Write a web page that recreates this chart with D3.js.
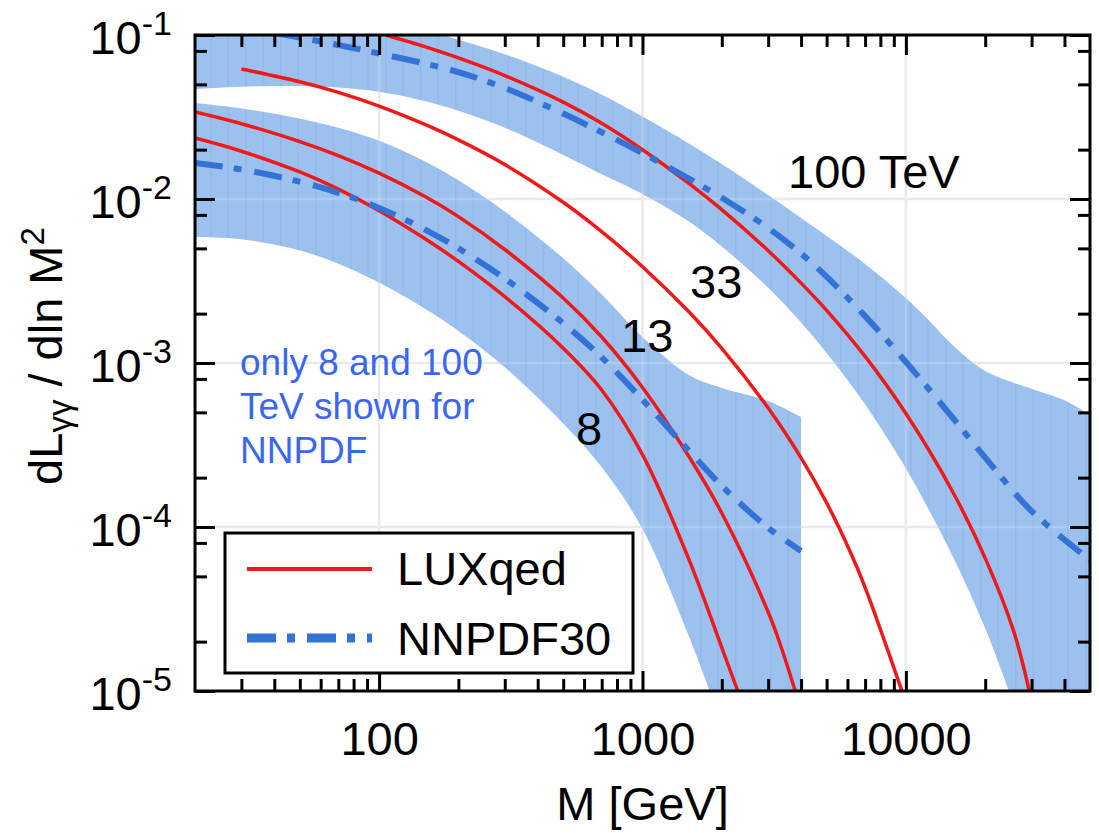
<!DOCTYPE html>
<html><head><meta charset="utf-8">
<script src="https://cdn.jsdelivr.net/npm/d3@7"></script>
<style>body{margin:0;background:#fff} text{font-family:"Liberation Sans",Arial,Helvetica,sans-serif}</style>
</head><body><svg id="c" width="1099" height="833"></svg>
<script>
// ---------- data (M in GeV, luminosity dL/dlnM^2) ----------
const xDomain = [20, 50000];
const yDomain = [1e-5, 0.1];
const xMajor = [100, 1000, 10000];
const xMinor = [30,40,50,60,70,80,90,200,300,400,500,600,700,800,900,2000,3000,4000,5000,6000,7000,8000,9000,20000,30000,40000];
const yMajor = [0.1, 0.01, 0.001, 0.0001, 0.00001];
const yExp = ["-1","-2","-3","-4","-5"];
const yMinor = [0.08,0.05,0.02,0.008,0.005,0.002,0.0008,0.0005,0.0002,0.00008,0.00005,0.00002];
const xTickLabels = ["100","1000","10000"];

// LUXqed curves
const lux8M  = [20, 30, 50, 70, 100, 150, 200, 300, 500, 700, 1000, 1500, 2000, 2300];
const lux8L  = [0.02355, 0.01956, 0.01461, 0.01149, 0.00849, 0.00570, 0.004164, 0.002537, 0.001231, 0.000685, 0.000276, 6.35e-5, 1.84e-5, 1e-5];
const lux13M = [20, 30, 50, 70, 100, 150, 200, 300, 500, 700, 1000, 1500, 2000, 3000, 3360, 3800];
const lux13L = [0.03393, 0.02878, 0.02239, 0.01839, 0.01437, 0.01031, 0.00781, 0.004922, 0.00249, 0.00144, 0.000709, 0.000269, 0.0001217, 3.03e-5, 1.855e-5, 1e-5];
const lux33M = [30, 50, 70, 100, 150, 200, 300, 500, 700, 1000, 1500, 2000, 3000, 4000, 5000, 6140, 7000, 9660];
const lux33L = [0.06205, 0.05184, 0.04467, 0.03686, 0.02838, 0.02293, 0.01623, 0.009548, 0.006319, 0.003866, 0.002052, 0.001229, 0.000532, 0.000264, 0.0001405, 7.09e-5, 4.29e-5, 1e-5];
const lux100M = [106, 150, 200, 300, 500, 700, 1000, 1500, 2000, 3000, 4000, 5000, 7000, 10000, 15000, 20000, 25660, 29400];
const lux100L = [0.1, 0.08472, 0.07252, 0.05662, 0.03898, 0.02894, 0.01998, 0.01245, 0.008606, 0.00484, 0.00307, 0.002096, 0.001097, 0.000492, 0.0001658, 6.46e-5, 2.315e-5, 1e-5];

// NNPDF30 8 TeV: central, upper, lower
const nn8M = [20, 30, 50, 70, 100, 150, 200, 300, 500, 700, 1000, 1500, 2000, 3000, 4000];
const nn8L = [0.01658, 0.01515, 0.01275, 0.01091, 0.008825, 0.006489, 0.005005, 0.003274, 0.001748, 0.001083, 0.000597, 0.000292, 0.000178, 9.89e-5, 7.14e-5];
const nn8UpM = [20, 30, 50, 70, 100, 150, 200, 300, 500, 700, 1000, 1500, 2000, 3000, 4000];
const nn8UpL = [0.0385, 0.03567, 0.03087, 0.02717, 0.02262, 0.01686, 0.0130, 0.00839, 0.004355, 0.002624, 0.00144, 0.000845, 0.000704, 0.000587, 0.000469];
const nn8LoM = [20, 30, 50, 70, 100, 150, 200, 300, 500, 700, 1000, 1500, 1800];
const nn8LoL = [0.005866, 0.005679, 0.004853, 0.004032, 0.003092, 0.002132, 0.001567, 0.000943, 0.000428, 0.0002315, 9.74e-5, 2.16e-5, 1e-5];

// NNPDF30 100 TeV: central, upper, lower
const nn100M = [40, 50, 70, 100, 150, 200, 300, 500, 700, 1000, 1500, 2000, 3000, 4000, 5000, 7000, 10000, 15000, 20000, 30000, 50000];
const nn100L = [0.1029, 0.09655, 0.0869, 0.07713, 0.06683, 0.0594, 0.04753, 0.03317, 0.02551, 0.01903, 0.01331, 0.01017, 0.006655, 0.004647, 0.003359, 0.001932, 0.001014, 0.000467, 0.000265, 0.000125, 6.3e-5];
const nn100UpM = [172, 200, 300, 500, 700, 1000, 1500, 2000, 3000, 4000, 5000, 6140, 7000, 10000, 12500, 15000, 20000, 30000, 40000, 50000];
const nn100UpL = [0.1, 0.09362, 0.07637, 0.0556, 0.04319, 0.03189, 0.02183, 0.01634, 0.01058, 0.007671, 0.005957, 0.004706, 0.004021, 0.00249, 0.001754, 0.001291, 0.000893, 0.000697, 0.000593, 0.000483];
const nn100LoM = [20, 30, 50, 70, 100, 150, 200, 300, 500, 700, 1000, 1500, 2000, 3000, 4000, 5000, 6140, 7000, 10000, 15000, 20000, 24600];
const nn100LoL = [0.04686, 0.0484, 0.04887, 0.04786, 0.04505, 0.03942, 0.0345, 0.02721, 0.01857, 0.01416, 0.01073, 0.007282, 0.005133, 0.002873, 0.001763, 0.001152, 0.000751, 0.00056, 0.000227, 6.71e-5, 2.41e-5, 1e-5];

const energyLabels = ["100 TeV", "33", "13", "8"];
const legendLabels = ["LUXqed", "NNPDF30"];
const noteLines = ["only 8 and 100", "TeV shown for", "NNPDF"];

// ---------- drawing ----------
const svg = d3.select("#c");
const PL = 195, PR = 1090, PT = 35, PB = 691;
const x = d3.scaleLog().domain(xDomain).range([PL, PR]);
const y = d3.scaleLog().domain(yDomain).range([PB, PT]);
const RED = "#ee1a1a", BLUE = "#3473d5", BAND = "#9dc1ee";
const fs = 47;

const defs = svg.append("defs");
defs.append("clipPath").attr("id","clip").append("rect")
  .attr("x",PL).attr("y",PT).attr("width",PR-PL).attr("height",PB-PT);
const pat = defs.append("pattern").attr("id","stripes").attr("patternUnits","userSpaceOnUse")
  .attr("width",17.5).attr("height",20);
pat.append("rect").attr("width",17.5).attr("height",20).attr("fill",BAND);
pat.append("rect").attr("width",1.4).attr("height",20).attr("fill","#91b8eb");

// grid (under bands)
const grid = svg.append("g");
grid.selectAll(".gx").data(xMajor).join("line")
  .attr("x1",d=>x(d)).attr("x2",d=>x(d)).attr("y1",PT).attr("y2",PB)
  .attr("stroke","#e6e6e6").attr("stroke-width",2.5);
grid.selectAll(".gy").data(yMajor.slice(1,4)).join("line")
  .attr("y1",d=>y(d)).attr("y2",d=>y(d)).attr("x1",PL).attr("x2",PR)
  .attr("stroke","#e6e6e6").attr("stroke-width",2.5);

const pts = (M, V) => M.map((m,i)=>[m, V[i]]);
const line = d3.line().x(d=>x(d[0])).y(d=>y(d[1])).curve(d3.curveCatmullRom.alpha(0.5));

const plot = svg.append("g").attr("clip-path","url(#clip)");

// bands
const up8 = line(pts(nn8UpM, nn8UpL));
const lo8 = line(pts(nn8LoM, nn8LoL).reverse()).replace(/^M/,"L");
plot.append("path")
  .attr("d", up8 + `L${x(nn8UpM[nn8UpM.length-1])},${y(yDomain[0])}` + lo8 + "Z")
  .attr("fill","url(#stripes)");
const up100 = line(pts(nn100UpM, nn100UpL)).replace(/^M/,"L");
const lo100 = line(pts(nn100LoM, nn100LoL).reverse()).replace(/^M/,"L");
plot.append("path")
  .attr("d", `M${x(xDomain[0])},${y(yDomain[1])}` + up100 + `L${x(xDomain[1])},${y(yDomain[0])}` + lo100 + "Z")
  .attr("fill","url(#stripes)");

// faint grid over the bands
const grid2 = plot.append("g");
grid2.selectAll("line.a").data(xMajor).join("line")
  .attr("x1",d=>x(d)).attr("x2",d=>x(d)).attr("y1",PT).attr("y2",PB)
  .attr("stroke","rgba(255,255,255,0.18)").attr("stroke-width",2.5);
grid2.selectAll("line.b").data(yMajor.slice(1,4)).join("line")
  .attr("y1",d=>y(d)).attr("y2",d=>y(d)).attr("x1",PL).attr("x2",PR)
  .attr("stroke","rgba(255,255,255,0.18)").attr("stroke-width",2.5);

// LUX curves
[[lux8M,lux8L],[lux13M,lux13L],[lux33M,lux33L],[lux100M,lux100L]].forEach(([M,V])=>{
  plot.append("path").attr("d", line(pts(M,V))).attr("fill","none")
    .attr("stroke",RED).attr("stroke-width",3.5);
});
// NNPDF central
[[nn8M,nn8L],[nn100M,nn100L]].forEach(([M,V])=>{
  plot.append("path").attr("d", line(pts(M,V))).attr("fill","none")
    .attr("stroke",BLUE).attr("stroke-width",6).attr("stroke-dasharray","28,11,8,13");
});

// axes
function styleAxis(g){ g.select(".domain").remove(); g.selectAll("line").attr("stroke","#000").attr("stroke-width",3); }
svg.append("g").attr("transform",`translate(0,${PB})`)
  .call(d3.axisBottom(x).tickValues(xMajor).tickSize(-20).tickPadding(31).tickFormat((d,i)=>xTickLabels[i]))
  .call(styleAxis).call(g=>g.selectAll("text").attr("font-size",fs).attr("fill","#000").attr("font-family",null));
svg.append("g").attr("transform",`translate(0,${PB})`)
  .call(d3.axisBottom(x).tickValues(xMinor).tickSize(-12).tickFormat("")).call(styleAxis);
svg.append("g").attr("transform",`translate(0,${PT})`)
  .call(d3.axisTop(x).tickValues(xMajor).tickSize(-20).tickFormat("")).call(styleAxis);
svg.append("g").attr("transform",`translate(0,${PT})`)
  .call(d3.axisTop(x).tickValues(xMinor).tickSize(-12).tickFormat("")).call(styleAxis);
const ly = svg.append("g").attr("transform",`translate(${PL},0)`)
  .call(d3.axisLeft(y).tickValues(yMajor).tickSize(-20).tickPadding(23).tickFormat(""))
  .call(styleAxis);
ly.selectAll(".tick text").attr("font-size",fs).attr("fill","#000").attr("font-family",null).attr("dy","0.4em")
  .each(function(d,i){
    const t = d3.select(this);
    t.append("tspan").text("10");
    t.append("tspan").attr("dy",-19).attr("font-size",34).text(yExp[i]);
  });
svg.append("g").attr("transform",`translate(${PL},0)`)
  .call(d3.axisLeft(y).tickValues(yMinor).tickSize(-12).tickFormat("")).call(styleAxis);
svg.append("g").attr("transform",`translate(${PR},0)`)
  .call(d3.axisRight(y).tickValues(yMajor).tickSize(-20).tickFormat("")).call(styleAxis);
svg.append("g").attr("transform",`translate(${PR},0)`)
  .call(d3.axisRight(y).tickValues(yMinor).tickSize(-12).tickFormat("")).call(styleAxis);

// frame
svg.append("rect").attr("x",PL).attr("y",PT).attr("width",PR-PL).attr("height",PB-PT)
  .attr("fill","none").attr("stroke","#000").attr("stroke-width",3);

// axis titles
svg.append("text").attr("x",(PL+PR)/2).attr("y",820).attr("text-anchor","middle")
  .attr("font-size",fs).text("M [GeV]");
const yt = svg.append("text").attr("transform","translate(62,356) rotate(-90)")
  .attr("text-anchor","middle").attr("font-size",fs);
yt.append("tspan").text("dL");
yt.append("tspan").attr("dy",9).attr("font-size",33).text("γγ");
yt.append("tspan").attr("dy",-9).text(" / dln M");
yt.append("tspan").attr("dy",-18).attr("font-size",33).text("2");

// energy labels
const elPos = [[788,188],[690,298],[621,352],[576,445]];
energyLabels.forEach((s,i)=>{
  svg.append("text").attr("x",elPos[i][0]).attr("y",elPos[i][1]).attr("font-size",fs).text(s);
});

// note
noteLines.forEach((s,i)=>{
  svg.append("text").attr("x",240).attr("y",375 + i*44).attr("font-size",37)
    .attr("fill","#3a66f5").text(s);
});

// legend
const lg = svg.append("g");
lg.append("rect").attr("x",225).attr("y",533).attr("width",408).attr("height",140)
  .attr("fill","#fff").attr("stroke","#000").attr("stroke-width",3);
lg.append("line").attr("x1",247).attr("x2",372).attr("y1",569).attr("y2",569)
  .attr("stroke",RED).attr("stroke-width",4);
lg.append("line").attr("x1",247).attr("x2",372).attr("y1",638).attr("y2",638)
  .attr("stroke",BLUE).attr("stroke-width",9).attr("stroke-dasharray","29,11,8,12");
lg.append("text").attr("x",397).attr("y",585).attr("font-size",fs).text(legendLabels[0]);
lg.append("text").attr("x",397).attr("y",655).attr("font-size",fs).text(legendLabels[1]);
</script></body></html>
